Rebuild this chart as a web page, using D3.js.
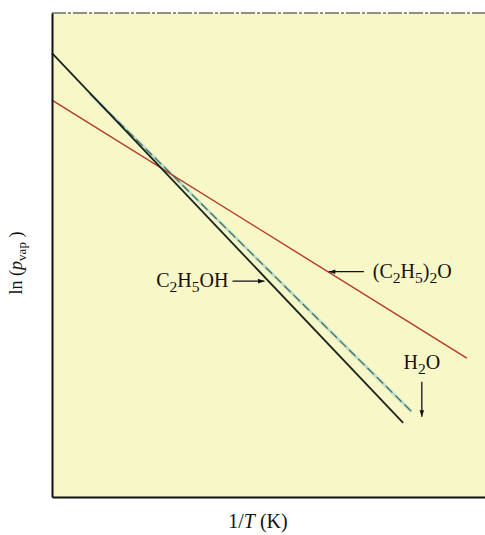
<!DOCTYPE html>
<html>
<head>
<meta charset="utf-8">
<style>
  body { margin: 0; background: #fff; }
  svg text { font-family: "Liberation Serif", "DejaVu Serif", serif; fill: #111; }
</style>
</head>
<body>
<div id="chart"></div>
<script src="https://cdnjs.cloudflare.com/ajax/libs/d3/7.8.5/d3.min.js"></script>
<script>
  // Chart size
  const width = 485;
  const height = 535;
  const margin = {top: 13, right: 0, bottom: 38, left: 52};

  // Lines of ln(p_vap) against 1/T (arbitrary units)
  const names = ["C2H5OH", "(C2H5)2O", "H2O"];
  const invT = [[0, 8.11], [0, 9.58], [0.88, 8.31]];
  const lnP = [[9.17, 1.53], [8.20, 2.87], [8.33, 1.76]];

  const x = d3.scaleLinear().domain([0, 10]).range([margin.left, width - margin.right]);
  const y = d3.scaleLinear().domain([0, 10]).range([height - margin.bottom, margin.top]);

  const svg = d3.create("svg")
    .attr("width", width)
    .attr("height", height)
    .attr("viewBox", [0, 0, width, height]);

  // arrow marker
  svg.append("defs").append("marker")
    .attr("id", "arrow")
    .attr("viewBox", "0 0 10 10")
    .attr("refX", 10).attr("refY", 5)
    .attr("markerWidth", 7).attr("markerHeight", 5)
    .attr("orient", "auto")
    .append("path")
    .attr("d", "M0,1.5 L10,5 L0,8.5 Z")
    .attr("fill", "#111");

  // pale yellow plot background
  svg.append("rect")
    .attr("x", x(0)).attr("y", y(10))
    .attr("width", x(10) - x(0)).attr("height", y(0) - y(10))
    .attr("fill", "#f8f7c8");

  // top edge (rough, scanned look)
  svg.append("line")
    .attr("x1", x(0)).attr("x2", x(10))
    .attr("y1", y(10)).attr("y2", y(10))
    .attr("stroke", "#6e6e62").attr("stroke-width", 1.5)
    .attr("stroke-dasharray", "14,2,3,2");

  const line = d3.line().x(d => x(d[0])).y(d => y(d[1]));
  const pts = i => invT[i].map((v, j) => [v, lnP[i][j]]);

  // water: light halo + dashed dark green
  svg.append("path").attr("d", line(pts(2)))
    .attr("fill", "none").attr("stroke", "#bcdccc").attr("stroke-width", 3);
  svg.append("path").attr("d", line(pts(2)))
    .attr("fill", "none").attr("stroke", "#3f6f58").attr("stroke-width", 1.2)
    .attr("stroke-dasharray", "9,4");

  // ether (red)
  svg.append("path").attr("d", line(pts(1)))
    .attr("fill", "none").attr("stroke", "#b53a26").attr("stroke-width", 1.4);

  // ethanol (black)
  svg.append("path").attr("d", line(pts(0)))
    .attr("fill", "none").attr("stroke", "#1a241e").attr("stroke-width", 1.8);

  // axes: only the domain lines, no ticks
  svg.append("g")
    .attr("transform", `translate(${x(0)},0)`)
    .call(d3.axisLeft(y).ticks(0).tickSize(0))
    .call(g => g.select(".domain").attr("stroke", "#111").attr("stroke-width", 2));
  svg.append("g")
    .attr("transform", `translate(0,${y(0)})`)
    .call(d3.axisBottom(x).ticks(0).tickSize(0))
    .call(g => g.select(".domain").attr("stroke", "#111").attr("stroke-width", 2));

  // point on a line at given 1/T
  const at = (i, v) => {
    const [x0, x1] = invT[i], [y0, y1] = lnP[i];
    return [v, y0 + (v - x0) * (y1 - y0) / (x1 - x0)];
  };

  const fs = 20;
  function chem(g, parts, attrs) {
    const t = g.append("text").attr("font-size", fs);
    Object.entries(attrs).forEach(([k, v]) => t.attr(k, v));
    let sub = false;
    parts.forEach(p => {
      const isSub = p[0] === "_";
      const s = t.append("tspan").text(isSub ? p.slice(1) : p);
      if (isSub) s.attr("font-size", fs * 0.78);
      if (isSub && !sub) s.attr("dy", 5);
      else if (!isSub && sub) s.attr("dy", -5);
      sub = isSub;
    });
    return t;
  }

  // C2H5OH label with arrow to black line
  const pE = at(0, 5.0);
  chem(svg, ["C", "_2", "H", "_5", "OH"], {x: x(pE[0]) - 40, y: y(pE[1]) + 6, "text-anchor": "end"});
  svg.append("line")
    .attr("x1", x(pE[0]) - 36).attr("x2", x(pE[0]) - 4)
    .attr("y1", y(pE[1])).attr("y2", y(pE[1]))
    .attr("stroke", "#111").attr("stroke-width", 1.3).attr("marker-end", "url(#arrow)");

  // (C2H5)2O label with arrow to red line
  const pD = at(1, 6.37);
  chem(svg, ["(C", "_2", "H", "_5", ")", "_2", "O"], {x: x(pD[0]) + 45, y: y(pD[1]) + 6});
  svg.append("line")
    .attr("x1", x(pD[0]) + 36).attr("x2", x(pD[0]) + 1)
    .attr("y1", y(pD[1])).attr("y2", y(pD[1]))
    .attr("stroke", "#111").attr("stroke-width", 1.3).attr("marker-end", "url(#arrow)");

  // H2O label with arrow down to green line end
  const pW = [invT[2][1], lnP[2][1]];
  chem(svg, ["H", "_2", "O"], {x: x(pW[0]) + 10, y: y(pW[1]) - 43, "text-anchor": "middle"});
  svg.append("line")
    .attr("x1", x(pW[0]) + 10).attr("x2", x(pW[0]) + 10)
    .attr("y1", y(pW[1]) - 30).attr("y2", y(pW[1]) + 5)
    .attr("stroke", "#111").attr("stroke-width", 1.3).attr("marker-end", "url(#arrow)");

  // axis titles
  const xt = svg.append("text")
    .attr("x", 258).attr("y", 528)
    .attr("text-anchor", "middle").attr("font-size", 20);
  xt.append("tspan").text("1/");
  xt.append("tspan").attr("font-style", "italic").text("T");
  xt.append("tspan").text(" (K)");

  const yt = svg.append("text")
    .attr("transform", "translate(22,263) rotate(-90)")
    .attr("text-anchor", "middle").attr("font-size", 18);
  yt.append("tspan").text("ln (");
  yt.append("tspan").attr("font-style", "italic").text("p");
  yt.append("tspan").attr("font-size", 13).attr("dy", 4).text("vap");
  yt.append("tspan").attr("dy", -4).text(" )");

  d3.select("#chart").node().appendChild(svg.node());
</script>
</body>
</html>
